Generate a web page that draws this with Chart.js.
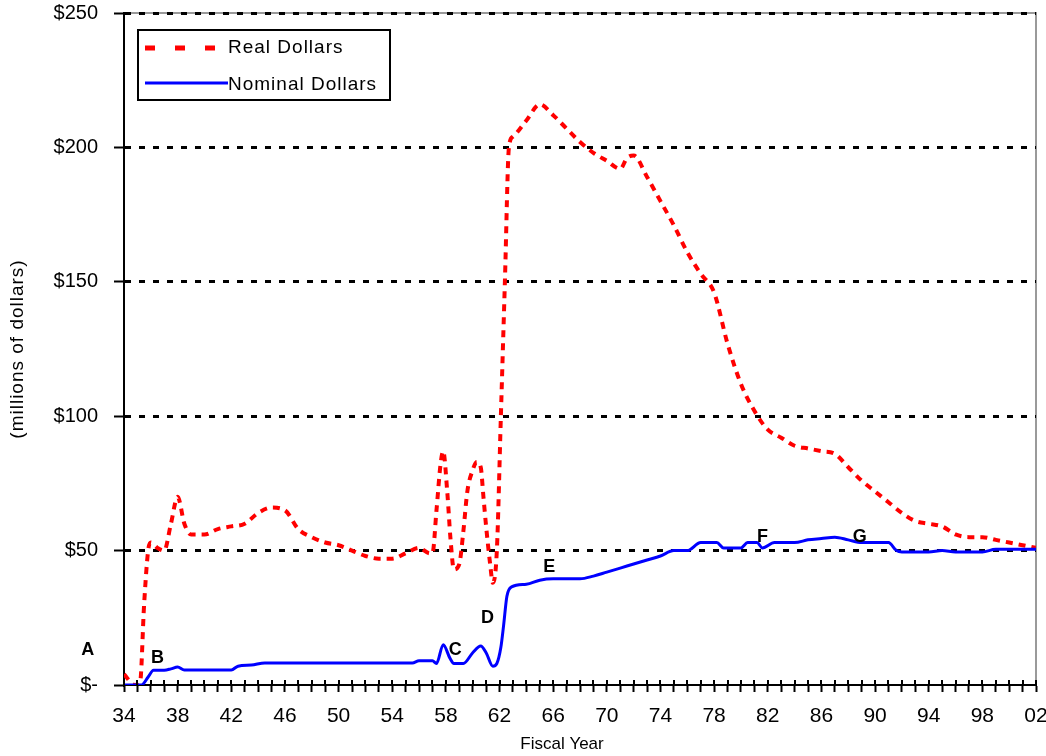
<!DOCTYPE html>
<html><head><meta charset="utf-8">
<script src="https://cdn.jsdelivr.net/npm/chart.js@4.4.0/dist/chart.umd.min.js"></script>
<style>html,body{margin:0;padding:0;background:#fff;}#wrap{width:1046px;height:756px;}</style>
</head><body><div id="wrap"><canvas id="c" width="1046" height="756"></canvas></div>
<script>
const seriesNames = ['Real Dollars', 'Nominal Dollars'];
const realYears = [1934.0,1934.8,1935.2,1935.5,1935.8,1936.0,1936.5,1937.0,1937.5,1938.0,1938.5,1939.0,1940.0,1941.0,1942.0,1943.0,1944.0,1945.0,1946.0,1947.0,1948.0,1949.0,1950.0,1951.0,1952.0,1953.0,1954.0,1955.0,1956.0,1956.8,1957.0,1957.3,1957.6,1957.8,1958.1,1958.35,1958.6,1959.0,1959.3,1959.6,1960.0,1960.3,1960.6,1960.8,1961.0,1961.3,1961.5,1961.8,1962.1,1962.4,1962.7,1963.0,1964.0,1965.0,1966.0,1967.0,1968.0,1969.0,1970.0,1971.0,1971.5,1972.0,1973.0,1974.0,1975.0,1976.0,1977.0,1978.0,1979.0,1980.0,1981.0,1982.0,1983.0,1984.0,1985.0,1986.0,1987.0,1988.0,1989.0,1990.0,1991.0,1992.0,1993.0,1994.0,1995.0,1996.0,1997.0,1998.0,1999.0,2000.0,2001.0,2002.0];
const realValues = [4,0,1,30,50,53,51,50,60,70,60,56,56,58,59,60,64,66,65,58,55,53,52,50,48,47,47,49,51,49,49,65,82,87,72,54,43,45,57,72,80,83,81,70,59,45,38,50,100,150,200,204,210,216,212,207,202,198,195,192,196,197,189,180,171,161,153,146,127,112,102,95,92,89,88,87,86,81,76,72,68,64,61,60,59,56,55,55,54,53,52,51];
const nominalYears = [1934.0,1935.3,1935.8,1936.2,1937.0,1937.5,1938.0,1938.5,1942.0,1942.5,1943.5,1944.5,1955.5,1956.0,1957.0,1957.3,1957.8,1958.3,1958.6,1959.3,1960.0,1960.6,1961.0,1961.5,1961.8,1962.1,1962.3,1962.55,1962.9,1964.0,1965.0,1966.0,1967.0,1968.0,1969.0,1970.0,1971.0,1972.0,1973.0,1974.0,1975.0,1976.0,1977.0,1978.2,1978.7,1980.0,1980.5,1981.2,1981.6,1982.5,1984.0,1985.0,1986.0,1987.0,1988.0,1989.0,1990.0,1991.0,1991.6,1992.0,1993.0,1994.0,1995.0,1996.0,1997.0,1998.0,1999.0,2000.0,2001.0,2002.0];
const nominalValues = [0,0,3,5.5,5.5,6,6.7,5.6,5.6,7,7.4,8.2,8.2,9,9,8,15,10,8,8,12,14.5,12,7,8,14,22,33,36.5,37.5,39,39.5,39.5,39.5,40.5,42,43.5,45,46.5,48,50,50,53,53,51,51,53,53,51,53,53,54,54.5,55,54,53,53,53,50,49.5,49.5,49.5,50,49.5,49.5,49.5,50.5,50.5,50.5,50.5];
const yTickValues = [0, 50, 100, 150, 200, 250];
const yTickLabels = ['$-', '$50', '$100', '$150', '$200', '$250'];
const annotLetters = ['A', 'B', 'C', 'D', 'E', 'F', 'G'];
const annotYears = [1931.3, 1936.5, 1958.7, 1961.1, 1965.7, 1981.6, 1988.85];
const annotValues = [13, 10, 13, 25, 44, 55, 55];

const FONT = 'Arial, "Liberation Sans", sans-serif';

const decor = {
  id: 'decor',
  beforeDraw(chart) {
    const {ctx, chartArea: a} = chart;
    ctx.save();
    ctx.strokeStyle = '#9a9a9a';
    ctx.lineWidth = 2;
    ctx.beginPath();
    ctx.moveTo(a.left, a.top);
    ctx.lineTo(a.right, a.top);
    ctx.lineTo(a.right, a.bottom);
    ctx.stroke();
    ctx.restore();
  },
  afterDraw(chart) {
    const {ctx, chartArea: a, scales} = chart;
    ctx.save();
    ctx.strokeStyle = '#000';
    ctx.lineWidth = 2;
    scales.x.ticks.forEach(t => {
      const px = Math.round(scales.x.getPixelForValue(t.value));
      ctx.beginPath();
      ctx.moveTo(px, a.bottom - 5);
      ctx.lineTo(px, a.bottom);
      ctx.stroke();
    });
    // legend
    const lx = a.left + 14, ly = a.top + 17;
    ctx.fillStyle = '#fff';
    ctx.fillRect(lx, ly, 252, 70);
    ctx.strokeStyle = '#000';
    ctx.lineWidth = 2;
    ctx.strokeRect(lx, ly, 252, 70);
    ctx.strokeStyle = '#ff0000';
    ctx.lineWidth = 5;
    ctx.setLineDash([10, 20]);
    ctx.beginPath();
    ctx.moveTo(lx + 7, ly + 18);
    ctx.lineTo(lx + 80, ly + 18);
    ctx.stroke();
    ctx.setLineDash([]);
    ctx.strokeStyle = '#0000ff';
    ctx.lineWidth = 3;
    ctx.beginPath();
    ctx.moveTo(lx + 7, ly + 53);
    ctx.lineTo(lx + 90, ly + 53);
    ctx.stroke();
    ctx.fillStyle = '#000';
    ctx.font = '19px ' + FONT;
    ctx.letterSpacing = '1px';
    ctx.textBaseline = 'middle';
    ctx.textAlign = 'left';
    ctx.fillText(seriesNames[0], lx + 90, ly + 18);
    ctx.fillText(seriesNames[1], lx + 90, ly + 55);
    // letters
    ctx.letterSpacing = '0px';
    ctx.font = 'bold 18px ' + FONT;
    ctx.textAlign = 'center';
    annotLetters.forEach((L, i) => {
      ctx.fillText(L, scales.x.getPixelForValue(annotYears[i]), scales.y.getPixelForValue(annotValues[i]));
    });
    // axis titles
    ctx.font = '17px ' + FONT;
    ctx.fillText('Fiscal Year', 562, 744);
    ctx.font = '19px ' + FONT;
    ctx.letterSpacing = '1px';
    ctx.translate(18, (a.top + a.bottom) / 2);
    ctx.rotate(-Math.PI / 2);
    ctx.fillText('(millions of dollars)', 0, 0);
    ctx.restore();
  }
};

new Chart(document.getElementById('c'), {
  type: 'line',
  data: {
    datasets: [
      {
        label: seriesNames[0],
        data: realYears.map((x, i) => ({x, y: realValues[i]})),
        borderColor: '#ff0000',
        borderWidth: 4,
        borderDash: [7, 6],
        pointRadius: 0,
        cubicInterpolationMode: 'monotone',
        order: 1
      },
      {
        label: seriesNames[1],
        data: nominalYears.map((x, i) => ({x, y: nominalValues[i]})),
        borderColor: '#0000ff',
        borderWidth: 3,
        pointRadius: 0,
        cubicInterpolationMode: 'monotone',
        order: 0
      }
    ]
  },
  options: {
    responsive: false,
    animation: false,
    devicePixelRatio: 1,
    layout: {padding: {top: 13, right: 10, left: 0, bottom: 0}},
    plugins: {legend: {display: false}, tooltip: {enabled: false}},
    scales: {
      x: {
        type: 'linear',
        min: 1934, max: 2002,
        afterFit: s => { s.height = 71; s.paddingLeft = 0; s.paddingRight = 0; },
        ticks: {
          stepSize: 1,
          autoSkip: false,
          maxRotation: 0,
          color: '#000',
          font: {size: 21, family: FONT},
          padding: 12,
          callback: v => ((v - 1934) % 4 === 0 ? String(v % 100).padStart(2, '0') : '')
        },
        grid: {drawOnChartArea: false, drawTicks: true, tickLength: 7, tickColor: '#000', tickWidth: 2},
        border: {color: '#000', width: 2}
      },
      y: {
        min: 0, max: 250,
        afterFit: s => { s.width = 124; s.paddingTop = 0; s.paddingBottom = 0; },
        afterBuildTicks: s => { s.ticks = yTickValues.map(v => ({value: v})); },
        ticks: {
          color: '#000',
          font: {size: 20, family: FONT},
          padding: 16,
          callback: v => yTickLabels[yTickValues.indexOf(v)]
        },
        grid: {
          color: c => (c.tick && c.tick.value === 0 ? 'rgba(0,0,0,0)' : '#000'),
          lineWidth: 3,
          tickColor: '#000',
          tickWidth: 2,
          tickLength: 10
        },
        border: {color: '#000', width: 2, dash: [6, 8]}
      }
    }
  },
  plugins: [decor]
});
</script></body></html>
